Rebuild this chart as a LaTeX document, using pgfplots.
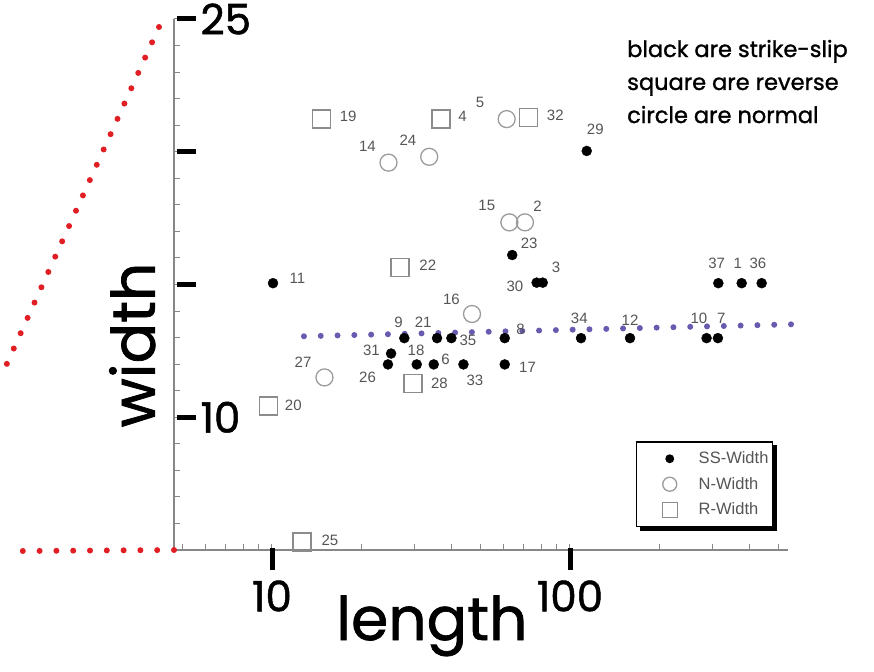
\documentclass[border=0pt]{standalone}
\usepackage{pgfplots}
\pgfplotsset{compat=1.18}
\usepackage{fontspec}
\setmainfont{Liberation Sans}
\newfontfamily\hand{Poppins}[FakeBold=1.2]
\definecolor{lblgray}{RGB}{85,85,85}
\definecolor{sqgray}{RGB}{140,140,140}
\definecolor{cigray}{RGB}{155,155,155}
\definecolor{axgray}{RGB}{135,135,135}
\definecolor{reddot}{RGB}{225,30,35}
\definecolor{bluedot}{RGB}{105,90,175}
\newcommand\lb[4]{\node[lbl, xshift=#2pt, yshift=#3pt] at (axis cs:#1) {#4};}
\newcommand\lgt[1]{\fontsize{16.5}{16.5}\selectfont\textcolor{lblgray}{#1}}
\begin{document}
\begin{tikzpicture}[lbl/.style={font=\fontsize{15}{15}\selectfont, text=lblgray, inner sep=0pt}]
\begin{axis}[
  scale only axis, width=614pt, height=531pt,
  xmode=log, xmin=4.69, xmax=539, ymin=5, ymax=25,
  axis lines=left, axis line style={axgray, line width=1.5pt, -},
  clip=false,
  xtick={10,100}, xticklabels={10,100},
  minor xtick={5,6,7,8,9,20,30,40,50,60,70,80,90,200,300,400,500},
  ytick={10,15,20,25}, yticklabels={10,,,25},
  minor ytick={5,6,...,25},
  tick align=inside, major tick length=6pt, minor tick length=6pt,
  tick style={axgray, line width=1pt},
  xticklabel style={font=\hand\fontsize{42}{42}\selectfont, yshift=-27pt},
  yticklabel style={font=\hand\fontsize{42}{42}\selectfont, anchor=west, xshift=23pt},
  xlabel={length}, xlabel style={font=\hand\fontsize{60}{60}\selectfont, at={(axis description cs:0.42,-0.1695)}, anchor=base},
  ylabel={width}, ylabel style={font=\hand\fontsize{60}{60}\selectfont, at={(axis description cs:-0.068,0.386)}, anchor=center},
  legend style={name=leg, at={(0.9756,0.0433)}, anchor=south east, draw=black, line width=1.2pt, fill=white,
    row sep=8pt, inner xsep=2pt, inner ysep=8pt,
    /tikz/every odd column/.append style={column sep=8pt}},
  legend cell align=left,
  legend image code/.code={\path[draw=none,fill=none] (0pt,-4pt) rectangle (50pt,4pt); \draw[#1, only marks] plot coordinates {(31pt,0pt)};},
]
\addplot[only marks, mark=*, mark size=5pt, black, legend image post style={mark size=3.8pt}] coordinates {
(10.08,15.05) (113.8,20.03) (64.0,16.11) (77.3,15.07) (81.0,15.07)
(314.6,15.05) (376.9,15.05) (439.8,15.05)
(27.8,12.98) (35.8,12.98) (40.0,12.98) (60.4,12.98) (108.9,12.98) (159,12.98) (287.3,12.98) (313.6,12.98)
(25.1,12.40) (24.5,11.99) (30.6,11.99) (34.9,11.99) (43.9,11.99) (60.4,11.99)
};
\addlegendentry{\lgt{SS-Width}}
\addplot[only marks, mark=o, mark size=8.5pt, cigray, line width=1.3pt, legend image post style={mark size=7pt}] coordinates {
(61.3,21.23) (24.6,19.59) (33.7,19.81) (62.6,17.34) (70.6,17.34) (46.9,13.89) (15.0,11.50)
};
\addlegendentry{\lgt{N-Width}}
\addplot[only marks, mark=square, mark size=9pt, sqgray, line width=1.3pt, legend image post style={mark size=7.5pt}] coordinates {
(14.63,21.23) (36.9,21.23) (72.7,21.28) (26.9,15.65) (29.7,11.27) (9.72,10.42) (12.6,5.30)
};
\addlegendentry{\lgt{R-Width}}
\addplot[bluedot, line width=6pt, dash pattern=on 0pt off 16.8pt, line cap=round, forget plot] coordinates {(12.8,13.05) (556,13.50)};
% labels
\lb{10.08,15.05}{24.3}{5.2}{11}
\lb{113.8,20.03}{8.6}{22}{29}
\lb{64.0,16.11}{17}{11.7}{23}
\lb{77.3,15.07}{-21.7}{-3.3}{30}
\lb{81.0,15.07}{13.3}{15.3}{3}
\lb{314.6,15.05}{-1.6}{20}{37}
\lb{376.9,15.05}{-4}{20}{1}
\lb{439.8,15.05}{-3.7}{20}{36}
\lb{27.8,12.98}{-5.8}{15.9}{9}
\lb{35.8,12.98}{-13.8}{15.9}{21}
\lb{40.0,12.98}{16.5}{-2.3}{35}
\lb{60.4,12.98}{15.9}{9}{8}
\lb{108.9,12.98}{-1.7}{20}{34}
\lb{159,12.98}{0}{18.3}{12}
\lb{287.3,12.98}{-7.6}{19.4}{10}
\lb{313.6,12.98}{3.5}{19.4}{7}
\lb{25.1,12.40}{-19.6}{2.8}{31}
\lb{24.5,11.99}{-20.4}{-13.1}{26}
\lb{30.6,11.99}{-0.7}{13.8}{18}
\lb{34.9,11.99}{11.7}{5.2}{6}
\lb{43.9,11.99}{11.4}{-16.2}{33}
\lb{60.4,11.99}{22.8}{-2.7}{17}
\lb{61.3,21.23}{-26.7}{16.3}{5}
\lb{24.6,19.59}{-21}{16.7}{14}
\lb{33.7,19.81}{-21.3}{16.7}{24}
\lb{62.6,17.34}{-22.6}{17.3}{15}
\lb{70.6,17.34}{12.7}{16.3}{2}
\lb{46.9,13.89}{-20.6}{14.9}{16}
\lb{15.0,11.50}{-21.4}{15.6}{27}
\lb{14.63,21.23}{27}{2.3}{19}
\lb{36.9,21.23}{21.7}{2.3}{4}
\lb{72.7,21.28}{26.6}{2}{32}
\lb{26.9,15.65}{27.7}{2.3}{22}
\lb{29.7,11.27}{26.5}{0}{28}
\lb{9.72,10.42}{25}{1}{20}
\lb{12.6,5.30}{28}{2}{25}
% annotation
\node[font=\hand\fontsize{22.5}{22.5}\selectfont, anchor=base west, inner sep=0pt] at (rel axis cs:0.7378,0.9284) {black are strike-slip};
\node[font=\hand\fontsize{22.5}{22.5}\selectfont, anchor=base west, inner sep=0pt] at (rel axis cs:0.7378,0.8663) {square are reverse};
\node[font=\hand\fontsize{22.5}{22.5}\selectfont, anchor=base west, inner sep=0pt] at (rel axis cs:0.7378,0.8041) {circle are normal};
\end{axis}
% legend drop shadow
\fill[black] ([xshift=4pt,yshift=-4pt]leg.south west) rectangle ([xshift=4pt]leg.south east);
\fill[black] ([yshift=-4pt]leg.north east) rectangle ([xshift=4pt,yshift=-4pt]leg.south east);
% hand-drawn ticks (axis origin at (0,0), 1pt per pixel)
\draw[black, line width=5pt] (3pt,531pt) -- (22pt,531pt);
\draw[black, line width=5pt] (3pt,398.25pt) -- (22pt,398.25pt);
\draw[black, line width=5pt] (3pt,265.5pt) -- (22pt,265.5pt);
\draw[black, line width=5pt] (3pt,132.75pt) -- (22pt,132.75pt);
\draw[black, line width=5pt] (98pt,2pt) -- (98pt,-20pt);
\draw[black, line width=5pt] (396pt,2pt) -- (396pt,-20pt);
% red zoom lines
\draw[reddot, line width=6pt, line cap=round, dash pattern=on 0pt off 16.8pt] (0,0) -- (-152pt,-1pt);
\draw[reddot, line width=6pt, line cap=round, dash pattern=on 0pt off 16.8pt] (-15pt,523pt) -- (-174pt,171pt);
\pgfresetboundingbox
\path (-174pt,-121pt) rectangle (700pt,550pt);
\end{tikzpicture}
\end{document}
